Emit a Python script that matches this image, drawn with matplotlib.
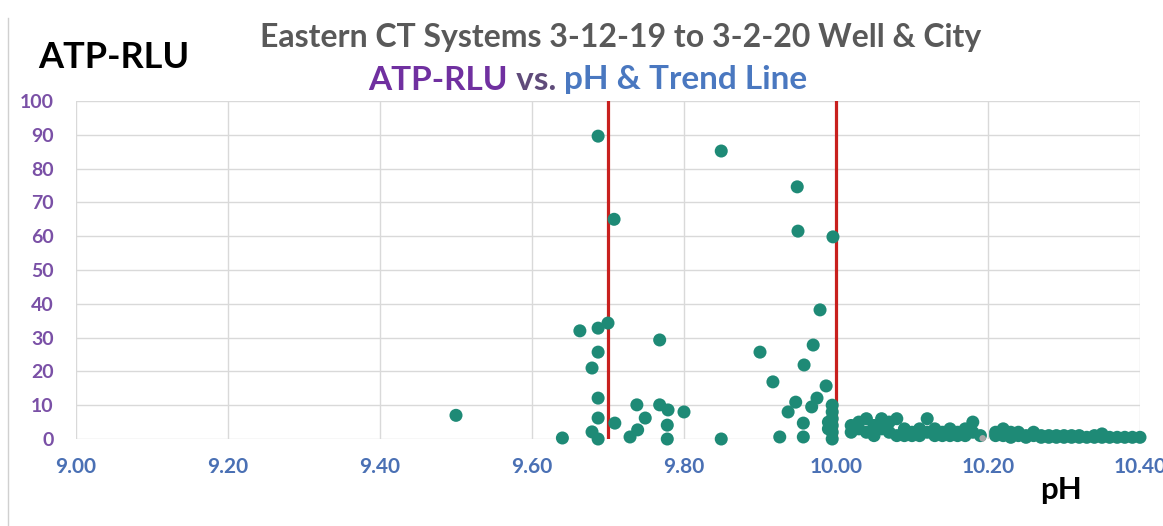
import matplotlib.pyplot as plt
from matplotlib.ticker import FormatStrFormatter

# ATP-RLU vs pH readings
ph_low = [9.50, 9.64, 9.663, 9.687, 9.687, 9.700, 9.687, 9.679, 9.687, 9.687,
          9.679, 9.687, 9.709, 9.708, 9.768, 9.738, 9.749, 9.739, 9.729, 9.768,
          9.779, 9.778, 9.778, 9.800, 9.849, 9.849]
rlu_low = [7, 0.3, 32, 89.6, 32.8, 34.3, 25.7, 21, 12.1, 6.2,
           2.1, 0, 4.7, 65, 29.3, 10.1, 6.2, 2.7, 0.6, 10.1,
           8.6, 4.1, 0, 8, 0, 85.2]

ph_mid = [9.90, 9.917, 9.926, 9.937, 9.947, 9.957, 9.957, 9.958, 9.970, 9.979,
          9.968, 9.975, 9.987, 9.949, 9.95, 9.996, 9.995, 9.995, 9.995, 9.995,
          9.995, 9.995, 9.99, 9.99]
rlu_mid = [25.7, 16.9, 0.6, 8, 10.9, 4.7, 0.6, 21.9, 27.8, 38.2,
           9.5, 12.1, 15.7, 74.6, 61.5, 59.8, 10, 8, 6, 4,
           2, 0, 3, 5]

ph_high = [10.02, 10.02, 10.03, 10.03, 10.04, 10.04, 10.05, 10.05, 10.06, 10.06,
           10.07, 10.07, 10.08, 10.08, 10.09, 10.09, 10.10, 10.10, 10.11, 10.11,
           10.12, 10.12, 10.13, 10.13, 10.14, 10.14, 10.15, 10.15, 10.16, 10.16,
           10.17, 10.17, 10.18, 10.18, 10.19, 10.21, 10.21, 10.22, 10.22, 10.23,
           10.23, 10.24, 10.24, 10.25, 10.25, 10.26, 10.26, 10.27, 10.27, 10.28,
           10.28, 10.29, 10.29, 10.30, 10.30, 10.31, 10.31, 10.32, 10.32, 10.33,
           10.34, 10.34, 10.35, 10.35, 10.36, 10.37, 10.38, 10.39, 10.40]
rlu_high = [4, 2, 5, 3, 6, 2, 4, 1, 6, 3,
            2, 5, 1, 6, 3, 1, 2, 1, 3, 1,
            6, 2, 1, 3, 2, 1, 3, 1, 2, 1,
            1, 3, 5, 2, 1, 1, 2, 3, 1, 2,
            0.5, 1, 2, 1, 0.5, 1, 2, 0.5, 1, 1,
            0.5, 1, 0.5, 0.5, 1, 0.5, 1, 0.5, 1, 0.5,
            1, 0.5, 1.5, 0.5, 0.5, 0.5, 0.5, 0.5, 0.5]

ph_grey = [10.193]
rlu_grey = [0.2]

limit_lines = [9.70, 10.00]

ph_all = ph_low + ph_mid + ph_high
rlu_all = rlu_low + rlu_mid + rlu_high

plt.rcParams['font.family'] = ['Lato', 'DejaVu Sans']

fig = plt.figure(figsize=(11.63, 5.26), dpi=100)
ax = fig.add_axes([76 / 1163, 1 - 439 / 526, (1140 - 76) / 1163, (439 - 101) / 526])

for v in limit_lines:
    ax.axvline(v, color='#c8201e', lw=2.3, zorder=2)
ax.scatter(ph_all, rlu_all, s=88, color='#1e8a76', edgecolors='none', zorder=3, clip_on=False)
ax.scatter(ph_grey, rlu_grey, s=22, color='#a8a8a8', edgecolors='none', zorder=4, clip_on=False)

ax.set_xlim(9.0, 10.4)
ax.set_ylim(0, 100)
ax.set_xticks([9.0, 9.2, 9.4, 9.6, 9.8, 10.0, 10.2, 10.4])
ax.set_yticks(range(0, 101, 10))
ax.xaxis.set_major_formatter(FormatStrFormatter('%.2f'))
ax.grid(True, color='#d9d9d9', lw=1)
ax.set_axisbelow(True)
for s in ax.spines.values():
    s.set_visible(False)
ax.tick_params(axis='both', length=0)
ax.tick_params(axis='y', pad=16, labelsize=14, labelcolor='#7a50a6')
ax.tick_params(axis='x', pad=13, labelsize=15, labelcolor='#4a70b4')
for lbl in ax.get_xticklabels() + ax.get_yticklabels():
    lbl.set_fontweight('bold')

# chart border on the left
fig.add_artist(plt.Line2D([8 / 1163, 8 / 1163], [0, 1 - 18 / 526], color='#d0d0d0', lw=1))

fig.text(621 / 1163, 1 - 38 / 526, 'Eastern CT Systems 3-12-19 to 3-2-20 Well & City',
         ha='center', va='center', fontsize=23, fontweight='bold', color='#595959')

fig.text(38 / 1163, 1 - 58 / 526, 'ATP-RLU', ha='left', va='center',
         fontsize=26, fontweight='bold', color='black')
fig.text(1040 / 1163, 1 - 490 / 526, 'pH', ha='left', va='center',
         fontsize=22.5, fontweight='bold', color='black')

# multi-coloured subtitle
parts = [('ATP-RLU', '#7030a0'), (' vs. ', '#5f4b7a'), ('pH & Trend Line', '#4a78c0')]
renderer = fig.canvas.get_renderer()
x = 368
for txt, col in parts:
    t = fig.text(x / 1163, 1 - 80 / 526, txt, ha='left', va='center',
                 fontsize=24, fontweight='bold', color=col)
    bb = t.get_window_extent(renderer)
    x += bb.width

fig.savefig('out.png', dpi=100)
